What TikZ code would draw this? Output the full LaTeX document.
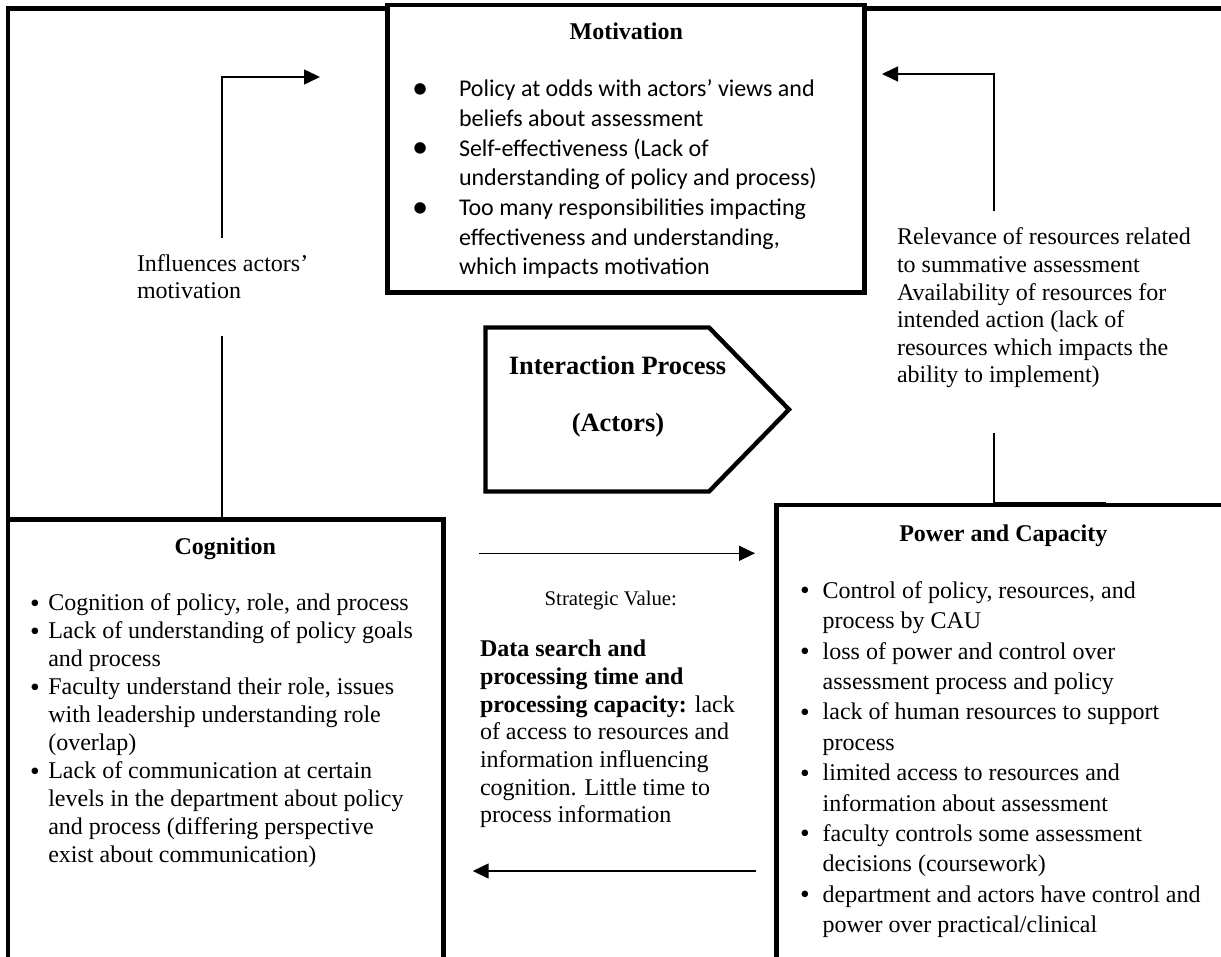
\documentclass[tikz,border=0pt]{standalone}
\usepackage{fontspec}
\setmainfont{Liberation Serif}
\newfontfamily\calibrifont{Carlito}
\usetikzlibrary{arrows.meta,fit}
% list bullet: box width, scale, vertical shift
\newcommand{\blt}[3]{\makebox[#1][l]{\raisebox{#3}{\scalebox{#2}{\textbullet}}}}
\newcommand{\tb}{\blt{9.15pt}{1.15}{-0.7pt}}
\newcommand{\pb}{\blt{11.35pt}{1.15}{-0.7pt}}
\newcommand{\cb}{\blt{23.5pt}{1.35}{-0.9pt}}
\tikzset{
  frameline/.style={line width=2.2pt},
  panel/.style={draw, line width=2.2pt, fill=white, inner sep=0pt},
  conn/.style={line width=0.75pt},
  arr/.style={conn, -{Triangle[length=8pt,width=7.5pt]}},
  txt/.style={inner sep=0pt, outer sep=0pt},
  head/.style={txt, anchor=base, font=\bfseries\fontsize{12}{14}\selectfont},
  body/.style={txt, anchor=base west}
}
\begin{document}
\begin{tikzpicture}[x=0.5pt,y=-0.5pt]
\useasboundingbox (0,0) rectangle (1221,957);
\clip (0,0) rectangle (1221,957);

% outer frame
\draw[frameline] (8,8.5) rectangle (1240,959);

% the three panels
\node[panel, fit={(387.5,5) (864.5,292.5)}] (mot) {};
\node[panel, fit={(8,519.5) (443.5,959)}] (cog) {};
\node[panel, fit={(776.5,505) (1240,959)}] (pow) {};

% interaction process pentagon
\coordinate (p1) at (485.5,327.5);
\coordinate (p2) at (709,327.5);
\coordinate (p3) at (789,409.5);
\coordinate (p4) at (709,491.5);
\coordinate (p5) at (485.5,491.5);
\draw[frameline] (p1) -- (p2) -- (p3) -- (p4) -- (p5) -- cycle;
\node[txt, anchor=base, font=\bfseries\fontsize{13.2}{15}\selectfont] (ipt) at (617.5,374) {Interaction Process};
\node[txt, anchor=base, font=\bfseries\fontsize{13.2}{15}\selectfont] (ipa) at (618,431.7) {(Actors)};

% Motivation
\node[head] (motT) at (626.3,39.3) {Motivation};
\node[body, font=\calibrifont\fontsize{12}{14.85}\selectfont] (motL) at (412,96.7) {%
\begin{tabular}[t]{@{}l@{}l@{}}
\cb & Policy at odds with actors’ views and\\
 & beliefs about assessment\\
\cb & Self-effectiveness (Lack of\\
 & understanding of policy and process)\\
\cb & Too many responsibilities impacting\\
 & effectiveness and understanding,\\
 & which impacts motivation
\end{tabular}};

% Cognition
\node[head] (cogT) at (225.3,554) {Cognition};
\node[body, font=\fontsize{12}{14}\selectfont] (cogL) at (30,610.7) {%
\begin{tabular}[t]{@{}l@{}l@{}}
\tb & Cognition of policy, role, and process\\
\tb & Lack of understanding of policy goals\\
 & and process\\
\tb & Faculty understand their role, issues\\
 & with leadership understanding role\\
 & (overlap)\\
\tb & Lack of communication at certain\\
 & levels in the department about policy\\
 & and process (differing perspective\\
 & exist about communication)
\end{tabular}};

% Power and Capacity
\node[head] (powT) at (1003.3,541.7) {Power and Capacity};
\node[body, font=\fontsize{12}{15.2}\selectfont] (powL) at (800,598.3) {%
\begin{tabular}[t]{@{}l@{}l@{}}
\pb & Control of policy, resources, and\\
 & process by CAU\\
\pb & loss of power and control over\\
 & assessment process and policy\\
\pb & lack of human resources to support\\
 & process\\
\pb & limited access to resources and\\
 & information about assessment\\
\pb & faculty controls some assessment\\
 & decisions (coursework)\\
\pb & department and actors have control and\\
 & power over practical/clinical
\end{tabular}};

% strategic value between cognition and power
\node[txt, anchor=base, font=\fontsize{10.4}{12}\selectfont] (sv) at (610.8,605) {Strategic Value:};
\node[body, font=\fontsize{12}{13.83}\selectfont] (svL) at (480,656.7) {%
\begin{tabular}[t]{@{}l@{}}
\textbf{Data search and}\\
\textbf{processing time and}\\
\textbf{processing capacity:} lack\\
of access to resources and\\
information influencing\\
cognition. Little time to\\
process information
\end{tabular}};

% side labels
\node[body, font=\fontsize{12}{13.4}\selectfont] (infl) at (137,271.7) {%
\begin{tabular}[t]{@{}l@{}}
Influences actors’\\
motivation
\end{tabular}};
\node[body, font=\fontsize{12}{13.77}\selectfont] (rel) at (897,245) {%
\begin{tabular}[t]{@{}l@{}}
Relevance of resources related\\
to summative assessment\\
Availability of resources for\\
intended action (lack of\\
resources which impacts the\\
ability to implement)
\end{tabular}};

% connector: cognition -> motivation
\coordinate (l1) at (222,336);
\coordinate (l2) at (222,238);
\coordinate (l3) at (222,77);
\coordinate (l4) at (320,77);
\draw[conn] (cog.north -| l1) -- (l1);
\draw[arr] (l2) -- (l3) -- (l4);

% connector: power -> motivation
\coordinate (r1) at (994,433);
\coordinate (r2) at (994,211);
\coordinate (r3) at (994,74);
\coordinate (r4) at (882,74);
\coordinate (r5) at (1106,502.5);
\coordinate (r6) at (994,502.5);
\draw[conn] (r5) -- (r6) -- (r1);
\draw[arr] (r2) -- (r3) -- (r4);

% exchange between cognition and power
\coordinate (m1) at (479,553.3);
\coordinate (m2) at (755,553.3);
\coordinate (m3) at (756,871);
\coordinate (m4) at (472.7,871);
\draw[arr] (m1) -- (m2);
\draw[arr] (m3) -- (m4);
\end{tikzpicture}
\end{document}
